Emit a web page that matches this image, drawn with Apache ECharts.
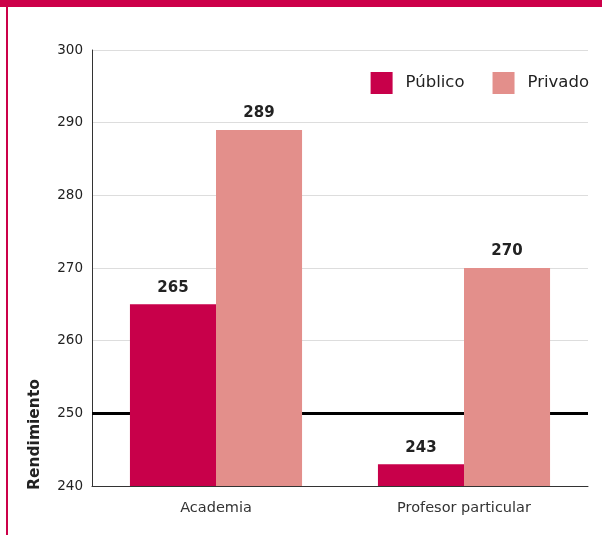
<!DOCTYPE html>
<html>
<head>
<meta charset="utf-8">
<script src="https://cdn.jsdelivr.net/npm/echarts@6/dist/echarts.min.js"></script>
<style>html,body{margin:0;padding:0;background:#fff}#c{width:602px;height:535px}</style>
</head>
<body>
<div id="c"></div>
<script>
var categories = ['Academia', 'Profesor particular'];
var publico = [265, 243];
var privado = [289, 270];
var yTicks = [240, 250, 260, 270, 280, 290, 300];
var referenceValue = 250;

var chart = echarts.init(document.getElementById('c'), null, {renderer: 'canvas'});
var font = '"DejaVu Sans", sans-serif';
chart.setOption({
  animation: false,
  textStyle: {fontFamily: font},
  graphic: [
    {type: 'rect', shape: {x: 0, y: 0, width: 602, height: 7}, style: {fill: '#cc0049'}},
    {type: 'rect', shape: {x: 6, y: 0, width: 2, height: 535}, style: {fill: '#cc0049'}},
    {type: 'text', x: 35, y: 490, rotation: Math.PI / 2,
     style: {text: 'Rendimiento', fill: '#222', font: 'bold 15.5px ' + font, textAlign: 'left', textVerticalAlign: 'middle'}}
  ],
  legend: {
    top: 67, right: 8,
    itemWidth: 22, itemHeight: 22, itemGap: 28,
    icon: 'rect',
    textStyle: {fontSize: 16.5, color: '#222', fontFamily: font, padding: [0, 0, 0, 8]},
    data: ['Público', 'Privado']
  },
  grid: {left: 92, right: 14, top: 50, bottom: 49, containLabel: false},
  xAxis: {
    type: 'category', data: categories,
    axisLine: {lineStyle: {color: '#333', width: 1}},
    axisTick: {show: false},
    axisLabel: {fontSize: 14.5, color: '#333', margin: 15}
  },
  yAxis: {
    type: 'value', min: yTicks[0], max: yTicks[yTicks.length - 1], interval: 10,
    axisLine: {show: true, lineStyle: {color: '#333'}},
    axisTick: {show: false},
    splitLine: {lineStyle: {color: '#dddddd'}},
    axisLabel: {fontSize: 13.5, color: '#222', margin: 9}
  },
  series: [
    {
      name: 'Público', type: 'bar', data: publico, barGap: '0%', barCategoryGap: '30.6%',
      itemStyle: {color: '#c8004a'}, z: 3,
      label: {show: true, position: 'top', distance: 9, fontSize: 15, fontWeight: 'bold', color: '#222', fontFamily: font},
      markLine: {
        z: 1, silent: true, symbol: 'none', label: {show: false},
        lineStyle: {color: '#000', width: 3, type: 'solid'},
        data: [{yAxis: referenceValue}]
      }
    },
    {
      name: 'Privado', type: 'bar', data: privado, barGap: '0%', barCategoryGap: '30.6%',
      itemStyle: {color: '#e38f8b'}, z: 3,
      label: {show: true, position: 'top', distance: 9, fontSize: 15, fontWeight: 'bold', color: '#222', fontFamily: font}
    }
  ]
});
</script>
</body>
</html>
